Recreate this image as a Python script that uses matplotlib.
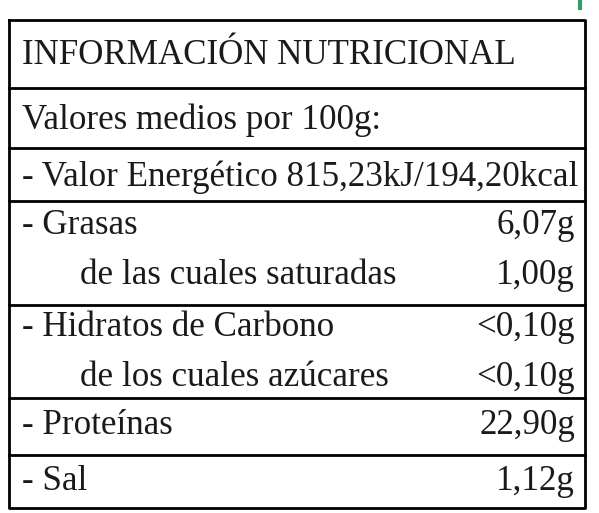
import matplotlib
matplotlib.use("Agg")
import matplotlib.pyplot as plt

title = "INFORMACIÓN NUTRICIONAL"
subtitle = "Valores medios por 100g:"
energy = "- Valor Energético 815,23kJ/194,20kcal"
labels = ["- Grasas", "de las cuales saturadas", "- Hidratos de Carbono",
          "de los cuales azúcares", "- Proteínas", "- Sal"]
values = ["6,07g", "1,00g", "<0,10g", "<0,10g", "22,90g", "1,12g"]
indent = [False, True, False, True, False, False]

fig = plt.figure(figsize=(5.99, 5.13), dpi=100)
ax = fig.add_axes([0, 0, 1, 1])
ax.set_xlim(0, 599)
ax.set_ylim(513, 0)
ax.axis("off")

font = dict(family="Liberation Serif", fontsize=25.2, color="#1a1a1a")

# frame and row separators
ax.plot([9, 585, 585, 9, 9], [20, 20, 508, 508, 20], color="black", lw=2)
for y in [88, 148, 201, 305, 398, 455]:
    ax.plot([9, 585], [y, y], color="black", lw=2)
ax.plot([580, 580], [0, 8], color="#3a9a6a", lw=3)

ax.text(22, 56, title, va="center", **font)
ax.text(22, 120, subtitle, va="center", **font)
ax.text(22, 177, energy, va="center", **font)

rows_y = [225, 275, 327, 377, 425, 481]
for lab, val, ind, y in zip(labels, values, indent, rows_y):
    ax.text(80 if ind else 22, y, lab, va="center", **font)
    ax.text(575, y, val, va="center", ha="right", **font)

fig.savefig("out.png", dpi=100)
